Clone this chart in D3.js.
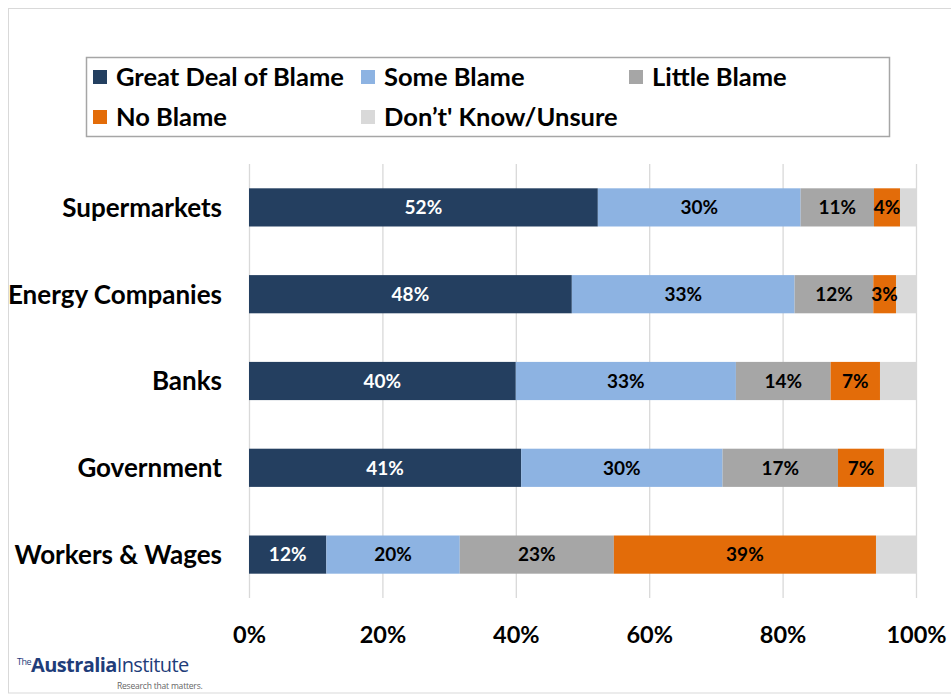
<!DOCTYPE html>
<html>
<head>
<meta charset="utf-8">
<script src="https://cdn.jsdelivr.net/npm/d3@7/dist/d3.min.js"></script>
<style>
  html, body { margin: 0; padding: 0; background: #fff; }
  svg { display: block; font-family: Lato, "Open Sans", sans-serif; }
</style>
</head>
<body>
<svg id="chart" width="951" height="695"></svg>
<script>
const categories = ["Supermarkets", "Energy Companies", "Banks", "Government", "Workers & Wages"];
const seriesNames = ["Great Deal of Blame", "Some Blame", "Little Blame", "No Blame", "Don\u2019t' Know/Unsure"];
const greatDeal = [52.3, 48.4, 40.0, 40.8, 11.6];
const someBlame = [30.4, 33.4, 33.0, 30.2, 20.0];
const littleBlame = [11.0, 11.8, 14.2, 17.3, 23.1];
const noBlame = [3.9, 3.4, 7.4, 6.9, 39.3];
const dontKnow = [2.4, 3.0, 5.4, 4.8, 6.0];
const tickValues = [0, 20, 40, 60, 80, 100];
const colors = ["#243f60", "#8db3e2", "#a6a6a6", "#e36c09", "#d9d9d9"];
const labelColors = ["#ffffff", "#000000", "#000000", "#000000", null];

const svg = d3.select("#chart");
const seriesData = [greatDeal, someBlame, littleBlame, noBlame, dontKnow];
const rows = categories.map((c, i) => {
  const o = { cat: c };
  seriesNames.forEach((s, j) => o[s] = seriesData[j][i]);
  return o;
});
const stacked = d3.stack().keys(seriesNames)(rows);

// outer frame
svg.append("rect").attr("x", 8.5).attr("y", 8.5).attr("width", 960).attr("height", 684.5)
  .attr("fill", "none").attr("stroke", "#d9d9d9").attr("stroke-width", 1);

const x = d3.scaleLinear().domain([0, 100]).range([249, 916]);
const y = d3.scaleBand().domain(categories).range([164, 598]).paddingInner(0.56).paddingOuter(0.28);

// gridlines
svg.append("g").selectAll("line").data(tickValues).join("line")
  .attr("x1", d => x(d) + 0.5).attr("x2", d => x(d) + 0.5)
  .attr("y1", 164).attr("y2", 598)
  .attr("stroke", "#d9d9d9").attr("stroke-width", 1.3);

// bars
const layer = svg.append("g").selectAll("g").data(stacked).join("g")
  .attr("fill", (d, i) => colors[i]);
layer.selectAll("rect").data(d => d).join("rect")
  .attr("x", d => x(d[0]))
  .attr("y", d => y(d.data.cat))
  .attr("width", d => x(d[1]) - x(d[0]))
  .attr("height", y.bandwidth());

// value labels
stacked.forEach((s, i) => {
  if (!labelColors[i]) return;
  svg.append("g").selectAll("text").data(s).join("text")
    .attr("x", d => (x(d[0]) + x(d[1])) / 2)
    .attr("y", d => y(d.data.cat) + y.bandwidth() / 2)
    .attr("dy", "0.36em")
    .attr("text-anchor", "middle")
    .attr("font-size", 19).attr("font-weight", "bold")
    .attr("fill", labelColors[i])
    .text(d => Math.round(d[1] - d[0]) + "%");
});

// category axis labels
svg.append("g").selectAll("text").data(categories).join("text")
  .attr("x", 222).attr("y", d => y(d) + y.bandwidth() / 2)
  .attr("dy", "0.36em").attr("text-anchor", "end")
  .attr("font-size", 26).attr("font-weight", "bold").attr("fill", "#000")
  .text(d => d);

// x axis
const xAxis = d3.axisBottom(x).tickValues(tickValues).tickFormat(d => d + "%").tickSize(0).tickPadding(0);
const ax = svg.append("g").attr("transform", "translate(0,626)").call(xAxis);
ax.select(".domain").remove();
ax.selectAll("text").attr("font-size", 23.5).attr("font-weight", "bold").attr("fill", "#000")
  .attr("font-family", "Lato, sans-serif");

// legend
svg.append("rect").attr("x", 86.5).attr("y", 57.5).attr("width", 803).attr("height", 79)
  .attr("fill", "#fff").attr("stroke", "#a6a6a6").attr("stroke-width", 1.5);
const legendPos = [[93, 77], [361, 77], [629, 77], [93, 117], [361, 117]];
const lg = svg.append("g").selectAll("g").data(seriesNames).join("g")
  .attr("transform", (d, i) => `translate(${legendPos[i][0]},${legendPos[i][1]})`);
lg.append("rect").attr("x", 0).attr("y", -7).attr("width", 14).attr("height", 14)
  .attr("fill", (d, i) => colors[i]);
lg.append("text").attr("x", 23).attr("y", 0).attr("dy", "0.36em")
  .attr("font-size", 25.5).attr("font-weight", "bold").attr("fill", "#000")
  .text(d => d);

// logo
const logo = svg.append("g").attr("transform", "translate(17,672)");
const lt = logo.append("text").attr("x", 0).attr("y", 0).attr("fill", "#1f3d7a").attr("font-family", "'Open Sans', sans-serif");
lt.append("tspan").attr("font-size", 9).attr("dy", -7).attr("letter-spacing", "-0.5").text("The");
lt.append("tspan").attr("font-size", 20).attr("font-weight", "bold").attr("dy", 7).attr("letter-spacing", "-0.6").text("Australia");
lt.append("tspan").attr("font-size", 20).attr("letter-spacing", "-0.6").text("Institute");
logo.append("text").attr("x", 100).attr("y", 17).attr("font-size", 8.5).attr("fill", "#666")
  .attr("font-family", "'Open Sans', sans-serif").attr("letter-spacing", "-0.2").text("Research that matters.");
</script>
</body>
</html>
